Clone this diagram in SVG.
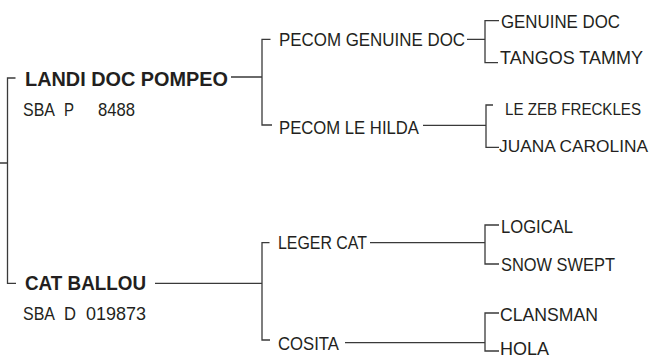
<svg xmlns="http://www.w3.org/2000/svg" width="653" height="358" viewBox="0 0 653 358">
<style>
text{font-family:"Liberation Sans",Arial,sans-serif;font-size:18.5px;fill:#231f20}
.b{font-weight:bold;font-size:19.5px}
.s{font-size:17px}
.t{font-size:16px}
.c{fill:none;stroke:#3a3a3a;stroke-width:1.3}
</style>
<rect width="653" height="358" fill="#fff"/>
<g id="connectors">
<path class="c" d="M0,163H7.5M15.5,78H7.5V283.3H16"/>
<path class="c" d="M231,77H262M270.5,39.3H262V125H272"/>
<path class="c" d="M467,39.3H485M499,20.7H485V62.7H498"/>
<path class="c" d="M423,125.3H486M493,105H486V147.3H499"/>
<path class="c" d="M155,283.3H262M269.5,242.7H262V340H270"/>
<path class="c" d="M370,242.7H485M499,225H485V264H499"/>
<path class="c" d="M345,342.7H485M499,313H485V351H499"/>
</g>
<g id="landi"><text class="b" x="25" y="86" textLength="203" lengthAdjust="spacingAndGlyphs">LANDI DOC POMPEO</text>
<text x="23" y="115.5" textLength="32" lengthAdjust="spacingAndGlyphs">SBA</text><text x="64" y="115.5" textLength="10" lengthAdjust="spacingAndGlyphs">P</text><text x="98" y="115.5" textLength="37" lengthAdjust="spacingAndGlyphs">8488</text></g>
<g id="cat"><text class="b" x="25" y="290" textLength="121" lengthAdjust="spacingAndGlyphs">CAT BALLOU</text>
<text x="23" y="320" textLength="32" lengthAdjust="spacingAndGlyphs">SBA</text><text x="64" y="320" textLength="12" lengthAdjust="spacingAndGlyphs">D</text><text x="86" y="320" textLength="60" lengthAdjust="spacingAndGlyphs">019873</text></g>
<g id="pecomgd"><text x="279" y="46" textLength="186" lengthAdjust="spacingAndGlyphs">PECOM GENUINE DOC</text></g>
<g id="pecomlh"><text x="279" y="134" textLength="140" lengthAdjust="spacingAndGlyphs">PECOM LE HILDA</text></g>
<g id="leger"><text x="278" y="249" textLength="89" lengthAdjust="spacingAndGlyphs">LEGER CAT</text></g>
<g id="cosita"><text x="278" y="350" textLength="61" lengthAdjust="spacingAndGlyphs">COSITA</text></g>
<g id="genuine"><text x="501" y="27.5" textLength="119" lengthAdjust="spacingAndGlyphs">GENUINE DOC</text></g>
<g id="tangos"><text x="500" y="64" textLength="143" lengthAdjust="spacingAndGlyphs">TANGOS TAMMY</text></g>
<g id="lezeb"><text class="t" x="505" y="115" textLength="136" lengthAdjust="spacingAndGlyphs">LE ZEB FRECKLES</text></g>
<g id="juana"><text class="s" x="499" y="152" textLength="149" lengthAdjust="spacingAndGlyphs">JUANA CAROLINA</text></g>
<g id="logical"><text x="501" y="232.5" textLength="72" lengthAdjust="spacingAndGlyphs">LOGICAL</text></g>
<g id="snow"><text x="501" y="270.5" textLength="114" lengthAdjust="spacingAndGlyphs">SNOW SWEPT</text></g>
<g id="clansman"><text x="500" y="320.5" textLength="98" lengthAdjust="spacingAndGlyphs">CLANSMAN</text></g>
<g id="hola"><text x="500" y="354.5" textLength="49" lengthAdjust="spacingAndGlyphs">HOLA</text></g>
</svg>
